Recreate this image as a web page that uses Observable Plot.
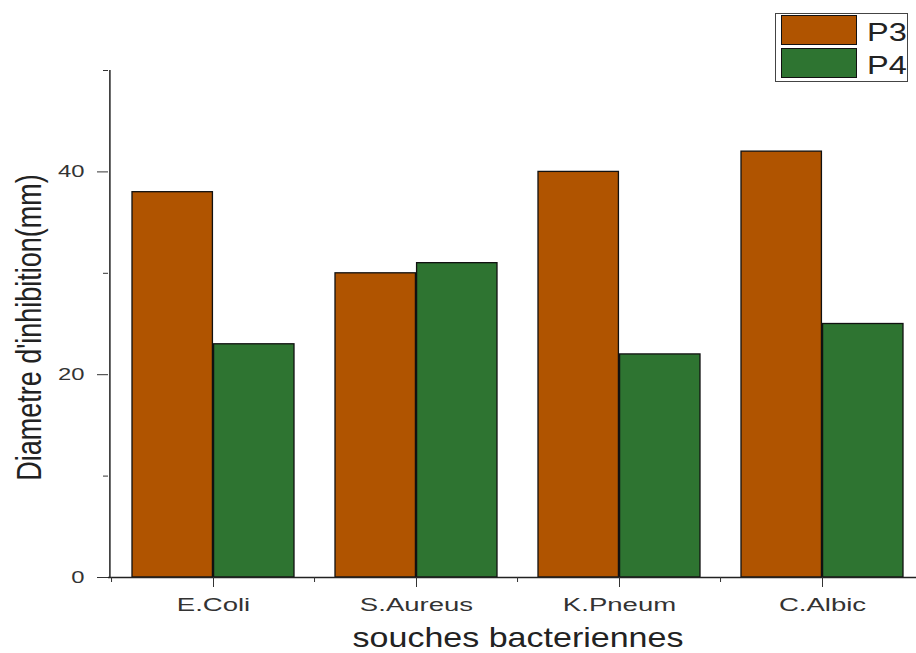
<!DOCTYPE html>
<html>
<head>
<meta charset="utf-8">
<script src="https://cdn.jsdelivr.net/npm/d3@7"></script>
<script src="https://cdn.jsdelivr.net/npm/@observablehq/plot@0.6"></script>
<style>
  html, body { margin: 0; padding: 0; background: #fff; overflow: hidden; }
  #chart { position: relative; width: 916px; height: 653px; font-family: "Liberation Sans", Arial, sans-serif; }
  #chart svg { overflow: hidden; }
  .legend-box { position: absolute; left: 775px; top: 13px; width: 133px; height: 69px;
                border: 1.5px solid #444; background: #fff; box-sizing: border-box; }
  .legend-sw { position: absolute; left: 781px; width: 76px; height: 30px; border: 1.5px solid #111; box-sizing: border-box; }
  .legend-lab { position: absolute; left: 867px; font-size: 25px; line-height: 30px; color: #222;
                transform: scaleX(1.3); transform-origin: left center; }
</style>
</head>
<body>
<div id="chart"></div>
<script>
// Inhibition diameters (mm) for each bacterial strain
const categories = ["E.Coli", "S.Aureus", "K.Pneum", "C.Albic"];
const seriesNames = ["P3", "P4"];
const p3 = [38, 30, 40, 42];
const p4 = [23, 31, 22, 25];
const seriesColors = ["#b05400", "#2e7431"];
const yMajorTicks = [0, 20, 40];
const yMinorTicks = [10, 30, 50];
const yDomain = [0, 50];
const xTitle = "souches bacteriennes";
const yTitle = "Diametre d'inhibition(mm)";

const W = 916, H = 653;
const marginLeft = 108, marginRight = -11, marginTop = 70, marginBottom = 76;
const padInner = 0.2, padOuter = 0.108;

const rows = categories.flatMap((c, i) => [
  {category: c, series: seriesNames[0], value: p3[i]},
  {category: c, series: seriesNames[1], value: p4[i]}
]);

// band geometry, used to split each band into two side-by-side bars
const band = d3.scaleBand()
  .domain(categories)
  .range([marginLeft, W - marginRight])
  .paddingInner(padInner)
  .paddingOuter(padOuter);
const bw = band.bandwidth();
const step = band.step();
const firstCenter = band(categories[0]) + bw / 2;

const font = "Liberation Sans, Arial, sans-serif";

const plot = Plot.plot({
  width: W,
  height: H,
  marginLeft, marginRight, marginTop, marginBottom,
  style: {fontFamily: font, background: "#fff"},
  x: {type: "band", domain: categories, paddingInner: padInner, paddingOuter: padOuter, axis: null},
  y: {domain: yDomain, axis: null},
  color: {domain: seriesNames, range: seriesColors},
  marks: [
    Plot.barY(rows.filter(d => d.series === seriesNames[0]), {
      x: "category", y: "value", fill: "series", stroke: "#111", strokeWidth: 1.3, insetRight: bw / 2
    }),
    Plot.barY(rows.filter(d => d.series === seriesNames[1]), {
      x: "category", y: "value", fill: "series", stroke: "#111", strokeWidth: 1.3, insetLeft: bw / 2
    }),
    // axis lines
    Plot.ruleY([0], {stroke: "#222", strokeWidth: 1.5}),
    Plot.ruleX([categories[0]], {y1: yDomain[0], y2: yDomain[1], dx: marginLeft - firstCenter, stroke: "#222", strokeWidth: 1.5}),
    // y ticks
    Plot.axisY(yMajorTicks, {tickSize: 11, tickPadding: 13, fontSize: 17, color: "#333", label: null}),
    Plot.axisY(yMinorTicks, {tickSize: 5, text: null, color: "#333", label: null}),
    // x ticks: major at categories, minor between them
    Plot.axisX({tickSize: 10, tickPadding: 10, fontSize: 19, color: "#333", label: null}),
    Plot.axisX({tickSize: 5, text: null, color: "#333", label: null, dx: -step / 2}),
    // axis titles
    Plot.text([xTitle], {
      frameAnchor: "bottom", lineAnchor: "middle", textAnchor: "middle", dy: 61, fontSize: 27, fill: "#222"
    }),
    Plot.text([yTitle], {
      frameAnchor: "left", lineAnchor: "middle", textAnchor: "middle", rotate: -90, dx: -79, dy: 3.5, fontSize: 27, fill: "#222"
    })
  ]
});

// widen the lettering horizontally (text is drawn wide in this figure)
const widths = new Map([
  ...categories.map(c => [c, 1.45]),
  [xTitle, 1.26]
]);
d3.select(plot).selectAll("text").each(function() {
  let t = this.getAttribute("transform");
  if (!t) {
    const x = +this.getAttribute("x") || 0, y = +this.getAttribute("y") || 0;
    this.removeAttribute("x"); this.removeAttribute("y");
    t = `translate(${x},${y})`;
  }
  const rotated = /rotate\(\s*-?90/.test(t);
  const label = this.textContent;
  const s = rotated ? " scale(1,1.3)" : ` scale(${widths.get(label) ?? 1.4},1)`;
  this.setAttribute("transform", t + s);
});

const chart = document.getElementById("chart");
chart.appendChild(plot);

// legend box in the upper right corner
const box = document.createElement("div");
box.className = "legend-box";
chart.appendChild(box);
seriesNames.forEach((name, i) => {
  const sw = document.createElement("div");
  sw.className = "legend-sw";
  sw.style.top = (15 + i * 33) + "px";
  sw.style.background = seriesColors[i];
  const lab = document.createElement("div");
  lab.className = "legend-lab";
  lab.style.top = (17 + i * 33) + "px";
  lab.textContent = name;
  chart.appendChild(sw);
  chart.appendChild(lab);
});
</script>
</body>
</html>
